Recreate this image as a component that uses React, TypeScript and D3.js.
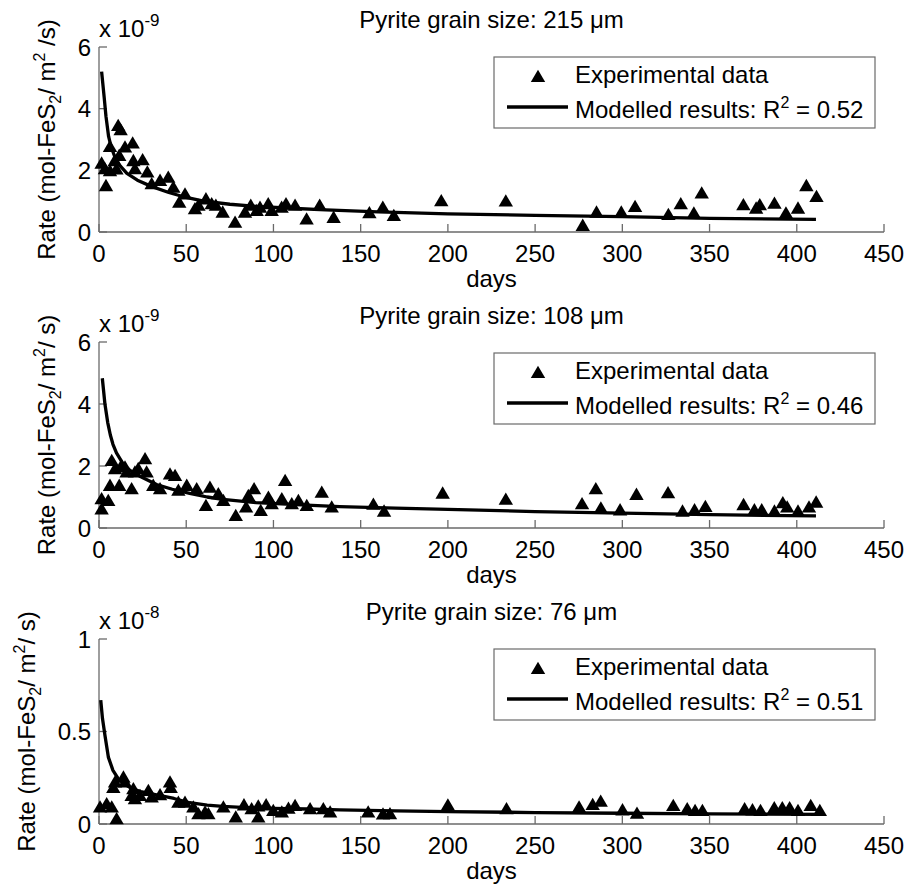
import React from 'react';
import * as d3 from 'd3';

// experimental points [day, rate]
const exp215: [number, number][] = [
  [1.5, 2.25], [3.4, 2.07], [4, 1.52], [6.3, 2.79], [6.3, 2.0], [9, 2.33], [10, 2.06], [11, 3.47],
  [12.4, 3.33], [11.6, 2.5], [14.9, 2.77], [19.3, 2.9], [19.7, 2.33], [20.6, 2.07], [25, 2.36],
  [27.7, 1.96], [30.2, 1.58], [35, 1.69], [39.7, 1.79], [42.6, 1.47], [46, 0.98], [49.3, 1.25],
  [55, 0.77], [57, 0.88], [61.3, 1.09], [64.6, 0.93], [67, 0.88], [70.9, 0.66], [78, 0.33],
  [83.7, 0.66], [87, 0.88], [90.4, 0.71], [92.3, 0.82], [97, 0.93], [99, 0.71], [104.7, 0.82],
  [107.2, 0.93], [112.4, 0.88], [119, 0.44], [126.5, 0.88], [134.5, 0.49], [155, 0.64],
  [162.7, 0.82], [169, 0.55], [196.2, 1.03], [233.2, 1.02], [277.3, 0.23], [285.2, 0.66],
  [299.4, 0.66], [307.3, 0.84], [326.4, 0.58], [333.5, 0.93], [341, 0.63], [345.5, 1.28],
  [369.4, 0.9], [376.7, 0.79], [378.8, 0.9], [387.2, 0.95], [393.8, 0.63], [400.7, 0.79],
  [405.5, 1.52], [411.3, 1.17],
];
const exp108: [number, number][] = [
  [1.5, 0.63], [1.5, 0.96], [5.3, 0.9], [6.3, 1.39], [7.3, 2.19], [9.2, 1.93], [11.6, 1.39],
  [12.9, 2.03], [14.9, 1.98], [15.8, 1.82], [18.7, 1.28], [20.6, 1.82], [22.5, 1.93], [26.4, 2.25],
  [27.3, 1.82], [31.1, 1.39], [35, 1.28], [40.7, 1.76], [43.6, 1.71], [45.5, 1.23], [50.3, 1.39],
  [56, 1.28], [61.3, 0.74], [63.6, 1.33], [68.4, 1.12], [71.3, 0.9], [78.4, 0.42], [84.3, 0.69],
  [85.6, 1.06], [88.9, 1.28], [92.7, 0.58], [97.1, 1.01], [99, 0.8], [104.8, 0.96], [106.7, 1.55],
  [110.5, 0.8], [114.3, 0.9], [119.1, 0.74], [127.7, 1.17], [133.4, 0.69], [157.3, 0.78],
  [163.4, 0.56], [197, 1.14], [233.2, 0.94], [276.9, 0.8], [284.8, 1.28], [287.7, 0.66],
  [298.7, 0.6], [308.1, 1.1], [326.2, 1.15], [334.5, 0.56], [341.4, 0.6], [347.6, 0.71],
  [369.5, 0.77], [375.7, 0.6], [379.9, 0.6], [387.2, 0.56], [392, 0.83], [394.5, 0.69],
  [400.7, 0.56], [407, 0.69], [411.1, 0.85],
];
const exp76: [number, number][] = [
  [0.6, 0.094], [4.4, 0.112], [7.3, 0.094], [10.1, 0.031], [8.2, 0.2], [9.2, 0.23], [14, 0.256],
  [14.9, 0.23], [18.7, 0.157], [19.7, 0.193], [20.6, 0.139], [23.5, 0.157], [28.3, 0.184],
  [30.2, 0.148], [35, 0.161], [40.7, 0.23], [41.1, 0.2], [45.5, 0.12], [49.3, 0.12], [54.1, 0.094],
  [57, 0.058], [60.8, 0.067], [62.7, 0.058], [71.3, 0.094], [78.4, 0.04], [83.1, 0.106],
  [87.5, 0.085], [91.3, 0.04], [91.3, 0.1], [95.8, 0.106], [99.9, 0.076], [104.8, 0.067],
  [108.6, 0.088], [112.4, 0.103], [121, 0.085], [128.6, 0.085], [132.5, 0.067], [154.3, 0.067],
  [162.8, 0.057], [166.8, 0.058], [200, 0.105], [233.6, 0.085], [275.2, 0.094], [283, 0.108],
  [287.6, 0.126], [300.1, 0.079], [308.4, 0.061], [329.2, 0.103], [337.2, 0.085], [341.7, 0.076],
  [345.9, 0.076], [370.1, 0.085], [374.6, 0.079], [379.2, 0.076], [387.1, 0.09], [391.7, 0.09],
  [395.9, 0.09], [400.7, 0.076], [408, 0.103], [413.2, 0.076],
];

// modelled curves [day, rate]
const model215: [number, number][] = [
  [1.5, 5.2], [3, 4.35], [4, 3.75], [5.5, 3.1], [7, 2.75], [9, 2.45], [12, 2.15], [16, 1.9],
  [22, 1.68], [30, 1.48], [40, 1.28], [50, 1.12], [60, 1.0], [75, 0.9], [90, 0.83], [110, 0.77],
  [130, 0.72], [160, 0.65], [200, 0.59], [250, 0.54], [300, 0.5], [350, 0.44], [411, 0.41],
];
const model108: [number, number][] = [
  [1.9, 4.83], [3.4, 4.0], [5, 3.4], [6.5, 3.0], [8, 2.7], [10, 2.42], [14, 2.05], [18, 1.85],
  [24, 1.65], [33, 1.4], [42, 1.25], [52, 1.12], [62, 1.0], [71, 0.92], [90, 0.82], [119, 0.74],
  [138, 0.69], [170, 0.64], [200, 0.6], [250, 0.53], [300, 0.48], [350, 0.43], [411, 0.39],
];
const model76: [number, number][] = [
  [1, 0.67], [2, 0.57], [3.4, 0.48], [5.4, 0.36], [8, 0.29], [11, 0.245], [14, 0.22], [19, 0.19],
  [24, 0.175], [33, 0.157], [43, 0.138], [52, 0.115], [62, 0.102], [71, 0.095], [90, 0.086],
  [119, 0.081], [138, 0.076], [170, 0.071], [200, 0.067], [250, 0.062], [300, 0.058],
  [350, 0.055], [413, 0.052],
];

const grainSizes = ['215', '108', '76'];
const r2Values = ['0.52', '0.46', '0.51'];
const exponents = ['-9', '-9', '-8'];
const xTicks = [0, 50, 100, 150, 200, 250, 300, 350, 400, 450];
const yTicks69 = [0, 2, 4, 6];
const yTicks8 = [0, 0.5, 1];

const FONT = 'Liberation Sans, Arial, Helvetica, sans-serif';
const AXIS = '#6a6a6a';
const tri = 'M0,-6.3L7.2,6L-7.2,6Z';

const layout = [
  { bottom: 232, top: 47, labelX: 55, tail: ' /s)', tailFirst: '/ m' },
  { bottom: 528, top: 342, labelX: 55, tail: '/ s)', tailFirst: '/ m' },
  { bottom: 824, top: 639, labelX: 35, tail: '/ s)', tailFirst: '/ m' },
];

const panels = [
  { exp: exp215, model: model215, yMax: 6, yTicks: yTicks69 },
  { exp: exp108, model: model108, yMax: 6, yTicks: yTicks69 },
  { exp: exp76, model: model76, yMax: 1, yTicks: yTicks8 },
];

function Panel({ i }: { i: number }) {
  const p = panels[i];
  const L = layout[i];
  const x = d3.scaleLinear().domain([0, 450]).range([99, 884]);
  const y = d3.scaleLinear().domain([0, p.yMax]).range([L.bottom, L.top]);
  const line = d3.line<[number, number]>().x(d => x(d[0])).y(d => y(d[1]));
  const cx = (99 + 884) / 2;
  const cy = (L.bottom + L.top) / 2;
  const lg = { x0: 494, x1: 875, y0: L.bottom - 175, y1: L.bottom - 104 };

  return (
    <g fontFamily={FONT} fill="#000">
      <text x={cx} y={L.bottom - 204} fontSize={24} textAnchor="middle">
        Pyrite grain size: {grainSizes[i]} μm
      </text>
      <text x={99} y={L.top - 10} fontSize={24}>
        x 10<tspan dy={-11} fontSize={17}>{exponents[i]}</tspan>
      </text>

      {/* axes */}
      <line x1={99} x2={884} y1={L.bottom} y2={L.bottom} stroke={AXIS} strokeWidth={1.3} />
      <line x1={99} x2={99} y1={L.bottom} y2={L.top} stroke={AXIS} strokeWidth={1.3} />
      {xTicks.map(t => (
        <g key={'x' + t}>
          <line x1={x(t)} x2={x(t)} y1={L.bottom} y2={L.bottom - 8} stroke={AXIS} strokeWidth={1.3} />
          <text x={x(t)} y={L.bottom + 29.5} fontSize={24} textAnchor="middle">{t}</text>
        </g>
      ))}
      {p.yTicks.map(t => (
        <g key={'y' + t}>
          <line x1={99} x2={107} y1={y(t)} y2={y(t)} stroke={AXIS} strokeWidth={1.3} />
          <text x={91} y={y(t)} dy="0.36em" fontSize={24} textAnchor="end">{t}</text>
        </g>
      ))}
      <text x={cx} y={L.bottom + 55} fontSize={24} textAnchor="middle">days</text>
      <text transform={`translate(${L.labelX},${cy}) rotate(-90)`} fontSize={24} textAnchor="middle">
        Rate (mol-FeS<tspan dy={6} fontSize={16}>2</tspan>
        <tspan dy={-6}>{L.tailFirst}</tspan>
        <tspan dy={-10} fontSize={16}>2</tspan>
        <tspan dy={10}>{L.tail}</tspan>
      </text>

      {/* data */}
      {p.exp.map((d, k) => (
        <path key={k} d={tri} transform={`translate(${x(d[0])},${y(d[1])})`} fill="#000" />
      ))}
      <path d={line(p.model) || ''} fill="none" stroke="#000" strokeWidth={3.3} strokeLinejoin="round" />

      {/* legend */}
      <rect x={lg.x0} y={lg.y0} width={lg.x1 - lg.x0} height={lg.y1 - lg.y0} fill="#fff" stroke={AXIS} strokeWidth={1.2} />
      <path d={tri} transform={`translate(538,${lg.y0 + 19})`} fill="#000" />
      <text x={575} y={lg.y0 + 26} fontSize={24}>Experimental data</text>
      <line x1={507} x2={568} y1={lg.y0 + 50} y2={lg.y0 + 50} stroke="#000" strokeWidth={3.3} />
      <text x={575} y={lg.y0 + 61} fontSize={24}>
        Modelled results: R<tspan dy={-10} fontSize={16}>2</tspan>
        <tspan dy={10}> = {r2Values[i]}</tspan>
      </text>
    </g>
  );
}

export default function App() {
  return (
    <svg width={907} height={888} style={{ position: 'absolute', left: 0, top: 0, background: '#fff' }}>
      <rect width={907} height={888} fill="#fff" />
      {[0, 1, 2].map(i => <Panel key={i} i={i} />)}
    </svg>
  );
}
